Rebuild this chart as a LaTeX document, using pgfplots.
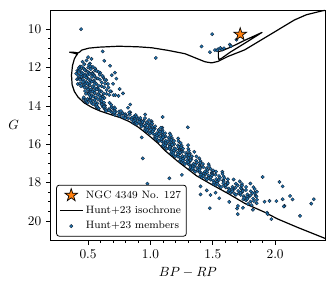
\documentclass[border=0pt]{standalone}
\usepackage{pgfplots}
\pgfplotsset{compat=1.18}
\usetikzlibrary{calc}
\definecolor{tabblue}{HTML}{1F77B4}
\definecolor{taborange}{HTML}{FF7F0E}
\definecolor{edgec}{rgb}{0.06,0.12,0.2}
\pgfdeclareplotmark{fstar}{%
  \pgfpathmoveto{\pgfpointpolar{90}{\pgfplotmarksize}}%
  \pgfpathlineto{\pgfpointpolar{126}{0.382\pgfplotmarksize}}%
  \pgfpathlineto{\pgfpointpolar{162}{\pgfplotmarksize}}%
  \pgfpathlineto{\pgfpointpolar{198}{0.382\pgfplotmarksize}}%
  \pgfpathlineto{\pgfpointpolar{234}{\pgfplotmarksize}}%
  \pgfpathlineto{\pgfpointpolar{270}{0.382\pgfplotmarksize}}%
  \pgfpathlineto{\pgfpointpolar{306}{\pgfplotmarksize}}%
  \pgfpathlineto{\pgfpointpolar{342}{0.382\pgfplotmarksize}}%
  \pgfpathlineto{\pgfpointpolar{18}{\pgfplotmarksize}}%
  \pgfpathlineto{\pgfpointpolar{54}{0.382\pgfplotmarksize}}%
  \pgfpathclose
  \pgfusepathqfillstroke}
\begin{document}
\begin{tikzpicture}
\begin{axis}[
  scale only axis, width=205.7pt, height=172.5pt,
  xmin=0.2, xmax=2.4, ymin=9, ymax=21, y dir=reverse,
  xtick={0.5,1.0,1.5,2.0}, ytick={10,12,14,16,18,20},
  minor x tick num=4, minor y tick num=3,
  xticklabel style={/pgf/number format/fixed,/pgf/number format/precision=1,/pgf/number format/fixed zerofill},
  tick align=outside, tick pos=left,
  major tick length=3.5pt, minor tick length=2pt,
  every tick/.style={black, line width=0.5pt},
  axis line style={black, line width=0.6pt},
  xlabel={$BP-RP$}, ylabel={$G$},
  ylabel style={rotate=-90},
  legend style={at={(0.02,0.015)}, anchor=south west, draw=black, rounded corners=2pt,
    font=\footnotesize, row sep=0.5pt, inner sep=2pt, line width=0.6pt},
  legend cell align=left,
  clip=true,
]
\coordinate (sw) at (rel axis cs:0,0);
\coordinate (ne) at (rel axis cs:1,1);
\addlegendimage{only marks, mark=fstar, mark size=5pt, mark options={fill=taborange, draw=black, line width=0.5pt}}
\addlegendentry{NGC 4349 No. 127}
\addlegendimage{black, line width=0.9pt}
\addlegendentry{Hunt+23 isochrone}
\addlegendimage{only marks, mark=*, mark size=1.25pt, mark options={fill=tabblue, draw=edgec, line width=0.3pt}}
\addlegendentry{Hunt+23 members}
% members
\addplot[forget plot, only marks, mark=*, mark size=1.25pt, mark options={fill=tabblue, draw=edgec, line width=0.3pt}] coordinates {
(0.444,10.00) (0.617,11.16) (1.043,11.50) (1.495,10.26) (1.410,10.90) (1.477,11.20) (1.517,11.09) (1.543,11.04) (1.560,10.98) (1.575,11.06) (1.590,11.00) (1.636,10.80) (1.645,10.88) (1.690,10.55) (1.535,11.10)
(0.630,11.65) (0.700,12.85) (0.780,13.35) (0.838,13.93) (0.878,14.54) (0.958,14.45) (1.010,14.80) (0.930,15.65) (0.820,14.10) (0.690,12.40)
(0.500,11.46) (0.488,11.63) (0.527,11.55) (0.514,11.79) (0.455,11.70) (0.436,11.95) (0.507,11.86) (0.538,11.97) (0.676,11.91) (0.470,11.83) (0.715,12.27) (0.727,12.58) (0.646,12.66) (0.659,12.86) (0.753,13.12) (0.685,13.25) (0.718,13.44) (0.744,13.48) (0.405,12.32) (0.412,12.61) (0.418,12.86) (0.598,12.28) (0.622,12.52)
(0.426,12.03) (0.449,11.96) (0.466,12.07) (0.501,12.00) (0.519,11.94) (0.556,12.05)
(0.413,12.17) (0.435,12.10) (0.465,12.05) (0.481,12.14) (0.521,12.09) (0.556,12.16)
(0.425,12.18) (0.448,12.25) (0.474,12.13) (0.497,12.22) (0.535,12.28) (0.568,12.17)
(0.426,12.24) (0.458,12.31) (0.477,12.36) (0.509,12.27) (0.533,12.33) (0.584,12.23) (0.547,12.39)
(0.421,12.43) (0.444,12.36) (0.461,12.47) (0.496,12.40) (0.514,12.34) (0.551,12.45) (0.594,12.38)
(0.423,12.57) (0.445,12.50) (0.475,12.45) (0.491,12.54) (0.531,12.49) (0.566,12.56) (0.617,12.44)
(0.435,12.58) (0.458,12.65) (0.484,12.53) (0.507,12.62) (0.545,12.68) (0.578,12.57) (0.633,12.64)
(0.436,12.64) (0.468,12.71) (0.487,12.76) (0.519,12.67) (0.543,12.73) (0.594,12.63) (0.557,12.79)
(0.436,12.83) (0.459,12.76) (0.476,12.87) (0.511,12.80) (0.529,12.74) (0.566,12.85) (0.609,12.78)
(0.443,12.97) (0.465,12.90) (0.495,12.85) (0.511,12.94) (0.551,12.89) (0.586,12.96) (0.637,12.84)
(0.465,12.98) (0.488,13.05) (0.514,12.93) (0.537,13.02) (0.575,13.08) (0.608,12.97) (0.663,13.04)
(0.471,13.04) (0.503,13.11) (0.522,13.16) (0.554,13.07) (0.578,13.13) (0.629,13.03) (0.592,13.19)
(0.476,13.23) (0.499,13.16) (0.516,13.27) (0.551,13.20) (0.569,13.14) (0.606,13.25) (0.649,13.18)
(0.483,13.37) (0.505,13.30) (0.535,13.25) (0.551,13.34) (0.591,13.29) (0.626,13.36) (0.677,13.24)
(0.505,13.38) (0.528,13.45) (0.554,13.33) (0.577,13.42) (0.615,13.48) (0.648,13.37) (0.703,13.44)
(0.511,13.44) (0.543,13.51) (0.562,13.56) (0.594,13.47) (0.618,13.53) (0.669,13.43) (0.632,13.59)
(0.463,13.63) (0.465,13.56) (0.508,13.67) (0.520,13.60) (0.520,13.54) (0.579,13.65) (0.599,13.58)
(0.480,13.77) (0.482,13.70) (0.495,13.65) (0.531,13.74) (0.553,13.69) (0.600,13.76) (0.614,13.64)
(0.488,13.78) (0.525,13.85) (0.518,13.73) (0.559,13.82) (0.607,13.88) (0.609,13.77) (0.672,13.84)
(0.495,13.84) (0.540,13.91) (0.568,13.96) (0.573,13.87) (0.609,13.93) (0.628,13.83) (0.636,13.99)
(0.570,14.07) (0.562,14.00) (0.567,13.95) (0.617,14.04) (0.631,13.99) (0.689,14.06) (0.685,13.94)
(0.582,14.13) (0.574,14.06) (0.633,14.17) (0.635,14.10) (0.626,14.04) (0.701,14.15) (0.711,14.08)
(0.586,14.14) (0.641,14.21) (0.677,14.26) (0.668,14.17) (0.713,14.23) (0.717,14.13) (0.749,14.29)
(0.645,14.28) (0.692,14.35) (0.667,14.23) (0.722,14.32) (0.779,14.38) (0.764,14.27) (0.838,14.34)
(0.715,14.47) (0.707,14.40) (0.712,14.35) (0.762,14.44) (0.776,14.39) (0.834,14.46) (0.830,14.34)
(0.751,14.53) (0.746,14.46) (0.800,14.57) (0.805,14.50) (0.799,14.44) (0.869,14.55) (0.882,14.48) (1.098,14.58)
(0.780,14.58) (0.823,14.65) (0.802,14.53) (0.850,14.62) (0.901,14.68) (0.889,14.57) (0.956,14.64)
(0.798,14.64) (0.848,14.71) (0.879,14.76) (0.874,14.67) (0.913,14.73) (0.919,14.63) (0.945,14.79)
(0.861,14.87) (0.865,14.80) (0.878,14.75) (0.909,14.84) (0.930,14.79) (0.971,14.86) (0.988,14.74)
(0.880,14.93) (0.885,14.86) (0.920,14.97) (0.934,14.90) (0.936,14.84) (0.987,14.95) (1.007,14.88)
(0.892,14.94) (0.931,15.01) (0.955,15.06) (0.963,14.97) (0.993,15.03) (1.014,14.93) (1.016,15.09)
(0.928,15.08) (0.960,15.15) (0.957,15.03) (0.992,15.12) (1.034,15.18) (1.038,15.07) (1.095,15.14) (1.300,15.12)
(0.956,15.27) (0.960,15.20) (0.973,15.15) (1.004,15.24) (1.025,15.19) (1.066,15.26) (1.083,15.14)
(0.970,15.33) (0.975,15.26) (1.010,15.37) (1.024,15.30) (1.026,15.24) (1.077,15.35) (1.097,15.28)
(0.988,15.38) (1.020,15.45) (1.017,15.33) (1.052,15.42) (1.094,15.48) (1.098,15.37) (1.155,15.44)
(0.997,15.44) (1.036,15.51) (1.060,15.56) (1.068,15.47) (1.098,15.53) (1.119,15.43) (1.121,15.59)
(1.036,15.67) (1.040,15.60) (1.053,15.55) (1.084,15.64) (1.105,15.59) (1.146,15.66) (1.163,15.54)
(1.045,15.73) (1.050,15.66) (1.085,15.77) (1.099,15.70) (1.101,15.64) (1.152,15.75) (1.172,15.68) (1.223,15.70)
(1.058,15.78) (1.090,15.85) (1.087,15.73) (1.122,15.82) (1.164,15.88) (1.168,15.77) (1.225,15.84)
(1.067,15.84) (1.106,15.91) (1.130,15.96) (1.138,15.87) (1.168,15.93) (1.189,15.83) (1.191,15.99)
(1.100,16.07) (1.107,16.00) (1.123,15.95) (1.153,16.04) (1.178,15.99) (1.221,16.06) (1.243,15.94) (1.302,16.05)
(1.110,16.13) (1.118,16.06) (1.153,16.17) (1.170,16.10) (1.174,16.04) (1.225,16.15) (1.250,16.08)
(1.124,16.18) (1.156,16.25) (1.157,16.13) (1.193,16.22) (1.236,16.28) (1.246,16.17) (1.304,16.24)
(1.129,16.24) (1.169,16.31) (1.194,16.36) (1.205,16.27) (1.236,16.33) (1.262,16.23) (1.259,16.39)
(1.165,16.47) (1.172,16.40) (1.188,16.35) (1.218,16.44) (1.243,16.39) (1.286,16.46) (1.308,16.34) (1.352,16.40)
(1.175,16.53) (1.183,16.46) (1.218,16.57) (1.235,16.50) (1.239,16.44) (1.290,16.55) (1.315,16.48)
(1.189,16.58) (1.221,16.65) (1.222,16.53) (1.258,16.62) (1.301,16.68) (1.311,16.57) (1.369,16.64)
(1.199,16.64) (1.239,16.71) (1.264,16.76) (1.275,16.67) (1.306,16.73) (1.332,16.63) (1.329,16.79) (0.939,16.74)
(1.236,16.87) (1.243,16.80) (1.262,16.75) (1.293,16.84) (1.321,16.79) (1.366,16.86) (1.392,16.74)
(1.250,16.93) (1.260,16.86) (1.296,16.97) (1.315,16.90) (1.321,16.84) (1.375,16.95) (1.402,16.88)
(1.269,16.98) (1.307,17.05) (1.304,16.93) (1.346,17.02) (1.394,17.08) (1.400,16.97) (1.467,17.04)
(1.276,17.04) (1.322,17.11) (1.351,17.16) (1.360,17.07) (1.396,17.13) (1.421,17.03) (1.423,17.19)
(1.319,17.27) (1.323,17.20) (1.339,17.15) (1.375,17.24) (1.401,17.19) (1.449,17.26) (1.469,17.14)
(1.332,17.33) (1.338,17.26) (1.379,17.37) (1.395,17.30) (1.398,17.24) (1.458,17.35) (1.481,17.28)
(1.352,17.38) (1.393,17.45) (1.393,17.33) (1.438,17.42) (1.492,17.48) (1.503,17.37) (1.577,17.44)
(1.358,17.44) (1.409,17.51) (1.440,17.56) (1.454,17.47) (1.493,17.53) (1.526,17.43) (1.522,17.59)
(1.399,17.67) (1.407,17.60) (1.427,17.55) (1.466,17.64) (1.497,17.59) (1.550,17.66) (1.578,17.54) (1.252,17.60)
(1.413,17.73) (1.423,17.66) (1.466,17.77) (1.487,17.70) (1.493,17.64) (1.558,17.75) (1.587,17.68)
(1.442,17.78) (1.483,17.85) (1.483,17.73) (1.528,17.82) (1.582,17.88) (1.593,17.77) (1.667,17.84) (1.152,17.78) (1.900,17.71)
(1.453,17.84) (1.504,17.91) (1.535,17.96) (1.549,17.87) (1.588,17.93) (1.621,17.83) (1.617,17.99)
(1.505,18.07) (1.512,18.00) (1.535,17.95) (1.584,18.04) (1.619,17.99) (1.685,18.06) (1.716,17.94) (1.802,18.05) (0.976,18.06) (2.035,17.97)
(1.526,18.13) (1.536,18.06) (1.590,18.17) (1.614,18.10) (1.620,18.04) (1.700,18.15) (1.734,18.08) (2.060,18.20)
(1.554,18.18) (1.604,18.25) (1.602,18.13) (1.658,18.22) (1.724,18.28) (1.734,18.17) (1.826,18.24) (1.402,18.20)
(1.566,18.24) (1.629,18.31) (1.667,18.36) (1.682,18.27) (1.730,18.33) (1.767,18.23) (1.766,18.39)
(1.625,18.47) (1.632,18.40) (1.655,18.35) (1.704,18.44) (1.739,18.39) (1.805,18.46) (1.836,18.34) (1.452,18.41) (1.835,18.55)
(1.646,18.53) (1.656,18.46) (1.710,18.57) (1.734,18.50) (1.740,18.44) (1.820,18.55) (1.854,18.48) (1.522,18.53)
(1.674,18.58) (1.724,18.65) (1.722,18.53) (1.778,18.62) (1.844,18.68) (1.402,18.62) (1.482,18.65)
(1.686,18.64) (1.749,18.71) (1.787,18.76) (1.802,18.67) (1.850,18.73) (2.120,18.70)
(1.745,18.87) (1.752,18.80) (1.775,18.75) (1.824,18.84) (2.310,18.87) (1.552,18.82)
(1.766,18.93) (1.776,18.86) (1.830,18.97) (1.854,18.90) (2.060,18.87) (2.140,18.88)
(1.803,18.99) (1.915,19.00) (1.955,18.96) (2.010,18.97) (1.632,19.01)
(1.783,19.12) (1.852,19.08) (2.290,19.10) (1.695,19.36) (1.702,19.22) (1.812,19.18) (2.075,19.22) (1.476,19.34) (1.742,19.32) (2.070,19.25) (1.822,19.42) (1.936,19.57) (1.700,19.65) (1.940,19.65) (2.200,19.74) (1.970,19.91)
};
% isochrone
\addplot[forget plot, black, line width=0.9pt, line join=round] coordinates {
(2.45,21.05) (2.38,20.86) (2.18,20.34) (2.02,19.90) (1.92,19.56) (1.76,19.10) (1.63,18.60) (1.49,18.10) (1.37,17.65) (1.22,16.90) (1.12,16.35) (1.06,15.95) (1.01,15.67) (0.95,15.35) (0.90,15.10) (0.83,14.82) (0.76,14.62) (0.68,14.45) (0.60,14.28) (0.53,14.08) (0.47,13.85) (0.42,13.55) (0.39,13.25) (0.372,12.90) (0.367,12.40) (0.375,11.90) (0.39,11.55) (0.405,11.38) (0.415,11.30) (0.38,11.24) (0.352,11.20) (0.39,11.21) (0.42,11.24) (0.435,11.18) (0.45,11.09) (0.506,10.99) (0.585,10.94) (0.745,10.89) (0.90,10.92) (1.011,10.97) (1.144,11.11) (1.277,11.28) (1.357,11.49) (1.437,11.70) (1.49,11.76) (1.543,11.68) (1.623,11.42) (1.756,11.08) (1.889,10.56) (2.022,10.04) (2.155,9.52) (2.25,9.25) (2.38,9.04) (2.45,8.98)
};
\addplot[forget plot, black, line width=0.9pt, line join=round] coordinates {
(1.545,11.17) (1.58,11.11) (1.65,10.92) (1.76,10.57) (1.895,10.17) (1.76,10.72) (1.64,11.20) (1.575,11.50) (1.55,11.60) (1.545,11.45) (1.545,11.17)
};
% star
\addplot[forget plot, only marks, mark=fstar, mark size=5pt, mark options={fill=taborange, draw=black, line width=0.5pt}] coordinates {(1.72,10.27)};
\end{axis}
\pgfresetboundingbox
\path ($(sw)+(-38pt,-38.25pt)$) rectangle ($(ne)+(8.25pt,7.5pt)$);
\end{tikzpicture}
\end{document}
